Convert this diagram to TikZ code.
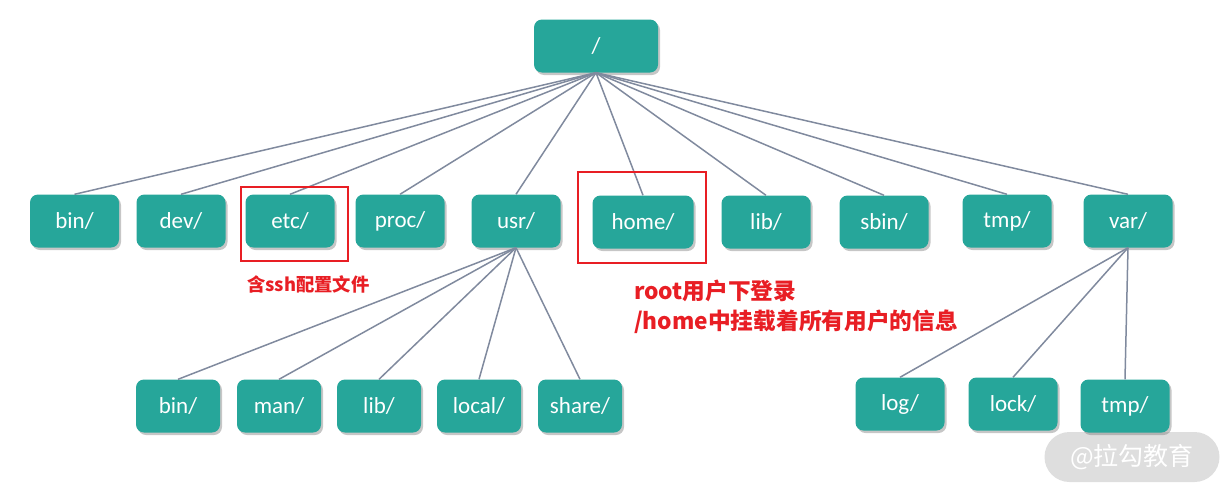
\documentclass[tikz,border=0pt]{standalone}
\usepackage{fontspec}
\setmainfont{Carlito}
\newfontfamily\cjk{Noto Sans CJK SC}
\usetikzlibrary{positioning, shadows}
\definecolor{dirteal}{RGB}{38,166,154}
\definecolor{treeline}{RGB}{128,138,158}
\definecolor{notered}{RGB}{232,30,36}
\definecolor{wmgray}{RGB}{222,222,222}

\begin{document}
\begin{tikzpicture}[x=1pt, y=-1pt,
    dir/.style={rectangle, rounded corners=8pt, fill=dirteal, text=white,
        minimum width=89pt, minimum height=53pt, inner sep=0pt,
        font=\fontsize{23}{26}\selectfont,
        drop shadow={shadow xshift=2pt, shadow yshift=-2.5pt, fill=black!50, opacity=0.45}},
    branch/.style={draw=treeline, line width=1.5pt},
    hilite/.style={draw=notered, line width=1.5pt},
    note/.style={text=notered, font=\cjk\bfseries\fontsize{22.7}{30}\selectfont, align=left, inner sep=0pt}]
    \useasboundingbox (0,0) rectangle (1229,493);

    % watermark
    \node[fill=wmgray, text=white, rounded corners=25pt, minimum width=175pt, minimum height=50pt,
        font=\cjk\fontsize{25}{28}\selectfont] (mark) at (1132,457) {@拉勾教育};

    \node[dir, minimum width=124pt] (root) at (596,46) {/};

    % first level
    \node[dir] (bin)  at (74.5,221) {bin/};
    \node[dir] (dev)  at (181,221)  {dev/};
    \node[dir] (etc)  at (290,221)  {etc/};
    \node[dir] (proc) at (400,221)  {proc/};
    \node[dir] (usr)  at (516,221)  {usr/};
    \node[dir, minimum width=101pt] (home) at (643,222) {home/};
    \node[dir] (lib)  at (766,222)  {lib/};
    \node[dir] (sbin) at (884,222)  {sbin/};
    \node[dir] (tmp)  at (1007,221) {tmp/};
    \node[dir] (var)  at (1128,221) {var/};

    % under usr/
    \node[dir, minimum width=84pt] (usrbin)   at (178,406) {bin/};
    \node[dir, minimum width=84pt] (usrman)   at (279,406) {man/};
    \node[dir, minimum width=84pt] (usrlib)   at (379,406) {lib/};
    \node[dir, minimum width=84pt] (usrlocal) at (479,406) {local/};
    \node[dir, minimum width=84pt] (usrshare) at (580,406) {share/};

    % under var/
    \node[dir] (varlog)  at (900,404)  {log/};
    \node[dir] (varlock) at (1013,404) {lock/};
    \node[dir] (vartmp)  at (1125,406) {tmp/};

    \path[branch]
        (root.south) edge (bin.north)
        (root.south) edge (dev.north)
        (root.south) edge (etc.north)
        (root.south) edge (proc.north)
        (root.south) edge (usr.north)
        (root.south) edge (home.north)
        (root.south) edge (lib.north)
        (root.south) edge (sbin.north)
        (root.south) edge (tmp.north)
        (root.south) edge (var.north)
        (usr.south) edge (usrbin.north)
        (usr.south) edge (usrman.north)
        (usr.south) edge (usrlib.north)
        (usr.south) edge (usrlocal.north)
        (usr.south) edge (usrshare.north)
        (var.south) edge (varlog.north)
        (var.south) edge (varlock.north)
        (var.south) edge (vartmp.north);

    % red remarks
    \draw[hilite] (241,187) rectangle (348,261);
    \draw[hilite] (578,172) rectangle (706,263);
    \node[note, anchor=base west, font=\cjk\bfseries\fontsize{18.3}{22}\selectfont] (sshnote) at (247,291) {含ssh配置文件};
    \node[note, anchor=base west] (homenote) at (634,329) {root用户下登录\\/home中挂载着所有用户的信息};
\end{tikzpicture}
\end{document}
